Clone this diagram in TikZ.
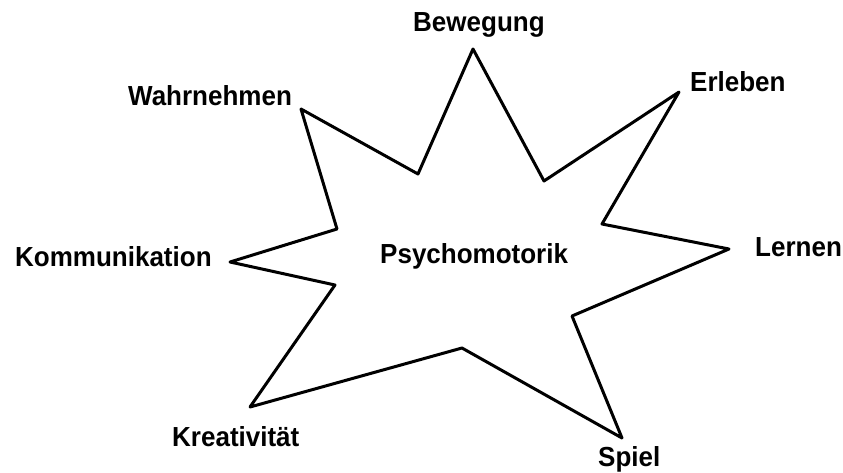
\documentclass[tikz,border=0pt]{standalone}
\usepackage{fontspec}
\setmainfont{Liberation Sans}
\begin{document}
\begin{tikzpicture}[x=1pt,y=-1pt,
  lbl/.style={font=\fontsize{26}{28}\selectfont\bfseries, inner sep=0pt, anchor=base west, yscale=1.06},
  starline/.style={line width=3pt, line join=round, draw=black}]
\useasboundingbox (0,0) rectangle (843,472);
% star vertices
\coordinate (B) at (473,49);
\coordinate (i1) at (544,181);
\coordinate (E) at (679,92);
\coordinate (i2) at (602,224);
\coordinate (L) at (729,249);
\coordinate (i3) at (572,316);
\coordinate (S) at (622,438);
\coordinate (i4) at (462,348);
\coordinate (K) at (250,407);
\coordinate (i5) at (335,285);
\coordinate (Ko) at (230,262);
\coordinate (i6) at (337,229);
\coordinate (W) at (301,109);
\coordinate (i7) at (418,174);
\draw[starline] (B) -- (i1) -- (E) -- (i2) -- (L) -- (i3) -- (S) -- (i4) -- (K) -- (i5) -- (Ko) -- (i6) -- (W) -- (i7) -- cycle;
% labels
\node[lbl] (tB) at (413,31.5) {Bewegung};
\node[lbl] (tE) at (690,91.5) {Erleben};
\node[lbl] (tW) at (128,105) {Wahrnehmen};
\node[lbl] (tKo) at (15,266.5) {Kommunikation};
\node[lbl] (tP) at (380,263) {Psychomotorik};
\node[lbl] (tL) at (755,256) {Lernen};
\node[lbl] (tK) at (172,446.5) {Kreativität};
\node[lbl] (tS) at (598,466.5) {Spiel};
\end{tikzpicture}
\end{document}
